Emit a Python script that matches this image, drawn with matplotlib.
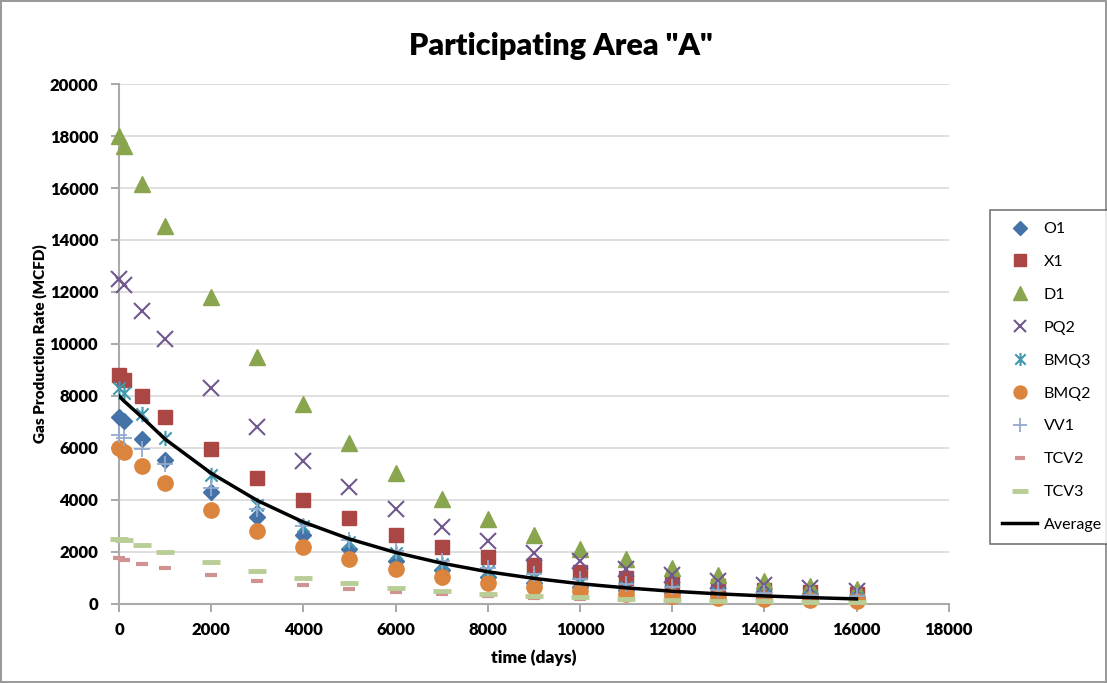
import matplotlib
matplotlib.use("Agg")
import matplotlib.pyplot as plt
from matplotlib.path import Path
import numpy as np

days = [0, 100, 500, 1000, 2000, 3000, 4000, 5000, 6000, 7000, 8000,
        9000, 10000, 11000, 12000, 13000, 14000, 15000, 16000]

O1 = [7200, 7050, 6350, 5550, 4300, 3350, 2650, 2100, 1650, 1300, 1050,
      820, 650, 520, 420, 330, 270, 220, 170]
X1 = [8800, 8600, 8000, 7200, 5950, 4850, 4000, 3300, 2650, 2200, 1800,
      1500, 1220, 1000, 820, 680, 550, 450, 370]
D1 = [18000, 17600, 16150, 14550, 11800, 9500, 7700, 6200, 5050, 4050, 3250,
      2650, 2100, 1720, 1380, 1100, 870, 700, 560]
PQ2 = [12500, 12250, 11250, 10200, 8300, 6800, 5500, 4500, 3650, 2980, 2420,
       1980, 1650, 1350, 1100, 900, 740, 620, 500]
BMQ3 = [8300, 8100, 7300, 6400, 4950, 3800, 3000, 2400, 1950, 1550, 1250,
        1000, 820, 660, 530, 430, 340, 280, 220]
BMQ2 = [6000, 5850, 5300, 4650, 3600, 2800, 2200, 1720, 1350, 1050, 820,
        650, 500, 400, 300, 240, 190, 150, 120]
VV1 = [6500, 6400, 5950, 5400, 4450, 3650, 3000, 2450, 2050, 1650, 1400,
       1150, 950, 780, 640, 530, 440, 360, 300]
TCV2 = [1750, 1700, 1550, 1400, 1120, 900, 720, 580, 460, 370, 300,
        240, 190, 150, 120, 95, 75, 60, 50]
TCV3 = [2500, 2450, 2250, 2000, 1600, 1250, 1000, 800, 620, 500, 390,
        310, 250, 200, 160, 125, 100, 80, 65]
Average = [8000, 7820, 7180, 6340, 5030, 3980, 3150, 2500, 1980, 1570, 1240,
           985, 780, 620, 490, 390, 310, 245, 195]

x_ticks = [0, 2000, 4000, 6000, 8000, 10000, 12000, 14000, 16000, 18000]
y_ticks = [0, 2000, 4000, 6000, 8000, 10000, 12000, 14000, 16000, 18000, 20000]

plt.rcParams['font.family'] = ['Lato', 'DejaVu Sans']

fig = plt.figure(figsize=(11.07, 6.83), dpi=100)
fig.patch.set_edgecolor('#9a9a9a')
fig.patch.set_linewidth(1.5)
ax = fig.add_axes([0.1075, 0.1157, 0.857 - 0.1075, 0.877 - 0.1157])

# asterisk marker (x with vertical bar)
star_path = Path([(-1, -1), (1, 1), (-1, 1), (1, -1), (0, -1.25), (0, 1.25)],
                 [Path.MOVETO, Path.LINETO, Path.MOVETO, Path.LINETO,
                  Path.MOVETO, Path.LINETO])

series = [
    ("O1", O1, dict(marker='D', ms=8, color='#4572A7', mec='#4572A7')),
    ("X1", X1, dict(marker='s', ms=10, color='#AA4643', mec='#AA4643')),
    ("D1", D1, dict(marker='^', ms=12, color='#89A54E', mec='#89A54E')),
    ("PQ2", PQ2, dict(marker='x', ms=11, mew=1.5, color='#71588F')),
    ("BMQ3", BMQ3, dict(marker=star_path, ms=11, mew=1.5, color='#4198AF', mfc='none')),
    ("BMQ2", BMQ2, dict(marker='o', ms=11, color='#DB843D', mec='#DB843D')),
    ("VV1", VV1, dict(marker='+', ms=12, mew=1.3, color='#93A9CF')),
    ("TCV2", TCV2, dict(marker='_', ms=9, mew=3, color='#D19392')),
    ("TCV3", TCV3, dict(marker='_', ms=13, mew=3.5, color='#B9CD96')),
]

handles = []
for name, vals, kw in series:
    h, = ax.plot(days, vals, linestyle='none', label=name, zorder=3,
                 clip_on=False, **kw)
    handles.append(h)
h, = ax.plot(days, Average, color='black', lw=2.5, label='Average', zorder=4)
handles.append(h)

ax.set_xlim(0, 18000)
ax.set_ylim(0, 20000)
ax.set_xticks(x_ticks)
ax.set_yticks(y_ticks)
ax.tick_params(axis='both', labelsize=12, length=6, color='#999999', width=1.2)
ax.tick_params(axis='y', pad=9)
ax.tick_params(axis='x', pad=7)
for lab in ax.get_xticklabels() + ax.get_yticklabels():
    lab.set_fontweight('heavy')
ax.grid(axis='y', color='#d9d9d9', lw=1.2, zorder=0)
ax.set_axisbelow(True)
for s in ['top', 'right']:
    ax.spines[s].set_visible(False)
ax.spines['bottom'].set_color('#aaaaaa')
ax.spines['left'].set_color('#aaaaaa')
ax.spines['bottom'].set_linewidth(1.5)
ax.spines['left'].set_linewidth(1.5)

ax.set_xlabel('time (days)', fontsize=12.5, fontweight='heavy', labelpad=8)
ax.set_ylabel('Gas Production Rate (MCFD)', fontsize=11, fontweight='heavy', labelpad=2)
fig.text(0.507, 0.932, 'Participating Area "A"', fontsize=22, fontweight='heavy',
         ha='center', va='center')

leg = fig.legend(handles=handles, loc='upper left', bbox_to_anchor=(0.8943, 0.6925),
                 frameon=True, fancybox=False, edgecolor='#555555', fontsize=11.5,
                 labelspacing=1.17, handlelength=2.2, handletextpad=0.4,
                 borderpad=0.75, borderaxespad=0, markerscale=0.85)
leg.get_frame().set_linewidth(1.2)

fig.savefig('out.png', dpi=100)
